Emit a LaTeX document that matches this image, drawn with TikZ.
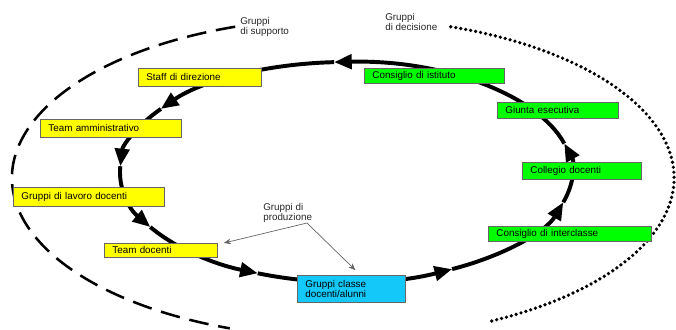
\documentclass[tikz,border=0pt]{standalone}
\usepackage{fontspec}
\setmainfont{Liberation Sans}
\usetikzlibrary{arrows.meta}

\definecolor{boxyellow}{RGB}{255,255,0}
\definecolor{boxgreen}{RGB}{0,255,0}
\definecolor{boxcyan}{RGB}{20,200,250}

\begin{document}
\begin{tikzpicture}[x=0.025cm, y=0.025cm,
    box/.style={draw=black!60, line width=0.6pt, anchor=north west, inner xsep=0.2cm, inner ysep=0pt, align=left, font=\fontsize{7}{7.5}\selectfont},
    cycle/.style={line width=2.8pt, -{Triangle[length=0.44cm, width=0.36cm]}},
    note/.style={anchor=north west, inner sep=0pt, align=left, text=black!85, font=\fontsize{7}{7.5}\selectfont},
    pointer/.style={draw=black!60, line width=0.5pt, -{Stealth[length=5pt, width=4pt]}},
]
\useasboundingbox (0,0) rectangle (676,329);

% outer groups
\coordinate (outer) at (343,151);
\draw[line width=1.8pt, dash pattern=on 14pt off 7pt] (outer) ++(109:331 and 160) arc[start angle=109, end angle=250, x radius=331, y radius=160];
\draw[line width=2.6pt, line cap=round, dash pattern=on 0pt off 3.6pt] (outer) ++(71:331 and 160) arc[start angle=71, end angle=-64, x radius=331, y radius=160];

% main cycle
\coordinate (ring) at (346,157);
\foreach \a/\b in {-16/15, 15/93, 93/145, 145/177, 177/210, 210/247, 247/298, 298/344}
    \draw[cycle] (ring) ++(\a:226 and 110) arc[start angle=\a, end angle=\b, x radius=226, y radius=110];

\node[box, fill=boxyellow, text width=2.675cm, minimum height=0.45cm] (staff) at (138,261) {Staff di direzione};
\node[box, fill=boxyellow, text width=3.125cm, minimum height=0.45cm] (admin) at (40,210) {Team amministrativo};
\node[box, fill=boxyellow, text width=3.375cm, minimum height=0.475cm] (workgroups) at (13,142) {Gruppi di lavoro docenti};
\node[box, fill=boxyellow, text width=2.425cm, minimum height=0.35cm] (teachers) at (104,86) {Team docenti};
\node[box, fill=boxcyan, text width=2.3cm, minimum height=0.675cm] (classes) at (297,54) {Gruppi classe\\docenti/alunni};
\node[box, fill=boxgreen, text width=3.1cm, minimum height=0.375cm] (council) at (364,261) {Consiglio di istituto};
\node[box, fill=boxgreen, text width=2.625cm, minimum height=0.4cm] (junta) at (497,227) {Giunta esecutiva};
\node[box, fill=boxgreen, text width=2.575cm, minimum height=0.425cm] (college) at (522,167) {Collegio docenti};
\node[box, fill=boxgreen, text width=3.675cm, minimum height=0.375cm] (interclass) at (488,103) {Consiglio di interclasse};

\node[note] (support) at (240,312) {Gruppi\\di supporto};
\node[note] (decision) at (385,316) {Gruppi\\di decisione};
\node[note] (production) at (263,126) {Gruppi di\\produzione};

\coordinate (split) at (307,106);
\draw[pointer] (split) -- ([xshift=0.15cm]teachers.north east);
\draw[pointer] (split) -- ([shift={(0.1cm,0.12cm)}]classes.north);
\end{tikzpicture}
\end{document}
